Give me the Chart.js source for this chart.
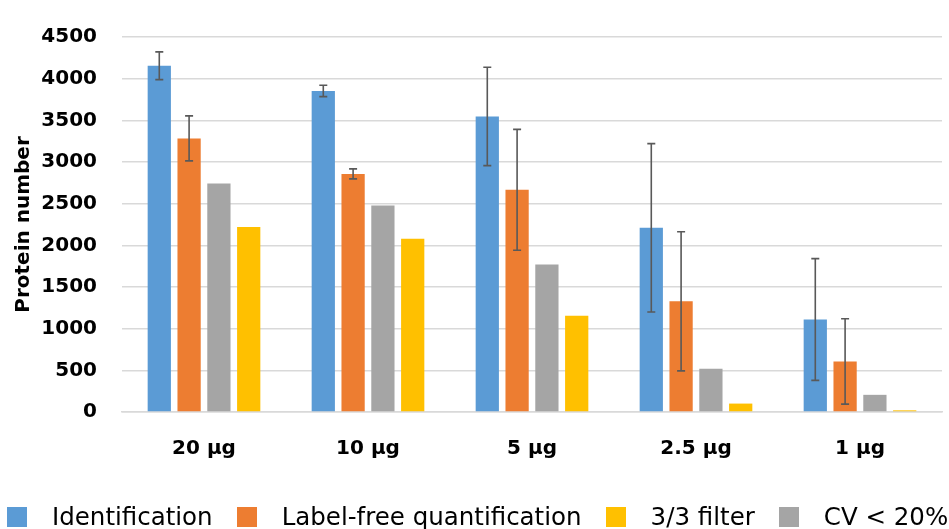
<!DOCTYPE html>
<html>
<head>
<meta charset="utf-8">
<title>Protein number</title>
<script src="https://cdn.jsdelivr.net/npm/chart.js@4/dist/chart.umd.min.js"></script>
<style>
  html, body { margin: 0; padding: 0; background: #fff; }
  #wrap { position: relative; width: 949px; height: 529px; overflow: hidden; }
  #chart { display: block; }
  /* legend under the chart, like the Excel one */
  #legend {
    position: absolute; left: 7px; top: 505px;
    display: flex; align-items: flex-start;
    font-family: "DejaVu Sans", sans-serif; font-size: 24.5px; line-height: 1;
    color: #000; white-space: nowrap;
  }
  #legend .item { display: flex; align-items: flex-start; margin-right: 24px; }
  #legend .box { width: 20px; height: 20px; margin-top: 2px; margin-right: 25px; }
</style>
</head>
<body>
<div id="wrap">
  <canvas id="chart" width="949" height="529"></canvas>
  <div id="legend"></div>
</div>
<script>
// --- data ---
const categories = ['20 µg', '10 µg', '5 µg', '2.5 µg', '1 µg'];

const identification = [4155, 3853, 3547, 2210, 1110];
const identificationErr = [167, 68, 590, 1010, 730];

const labelFree = [3283, 2857, 2666, 1328, 607];
const labelFreeErr = [270, 60, 725, 835, 512];

const cvBelow20 = [2741, 2477, 1771, 520, 206];
const filter33 = [2221, 2078, 1155, 101, 20];

const yTicks = [0, 500, 1000, 1500, 2000, 2500, 3000, 3500, 4000, 4500];

// legend order differs from bar order in the original
const legendOrder = ['Identification', 'Label-free quantification', '3/3 filter', 'CV < 20%'];

const colors = {
    'Identification': '#5B9BD5',
    'Label-free quantification': '#ED7D31',
    'CV < 20%': '#A5A5A5',
    '3/3 filter': '#FFC000'
};

const FONT = '"DejaVu Sans", sans-serif';

// error bars drawn with the y scale of the chart
const errorBarPlugin = {
    id: 'errorBars',
    afterDatasetsDraw(chart) {
        const ctx = chart.ctx;
        const yScale = chart.scales.y;
        chart.data.datasets.forEach((ds, i) => {
            if (!ds.errors) return;
            const meta = chart.getDatasetMeta(i);
            meta.data.forEach((bar, j) => {
                const v = ds.data[j];
                const e = ds.errors[j];
                const yTop = yScale.getPixelForValue(v + e);
                const yBot = yScale.getPixelForValue(Math.max(0, v - e));
                ctx.save();
                ctx.strokeStyle = '#595959';
                ctx.lineWidth = 1.6;
                ctx.beginPath();
                ctx.moveTo(bar.x, yTop);
                ctx.lineTo(bar.x, yBot);
                ctx.moveTo(bar.x - 4, yTop);
                ctx.lineTo(bar.x + 4, yTop);
                ctx.moveTo(bar.x - 4, yBot);
                ctx.lineTo(bar.x + 4, yBot);
                ctx.stroke();
                ctx.restore();
            });
        });
    }
};

function makeDataset(label, data, errors) {
    return {
        label: label,
        data: data,
        errors: errors || null,
        backgroundColor: colors[label],
        borderWidth: 0,
        categoryPercentage: 0.727,
        barPercentage: 0.78
    };
}

const ctx = document.getElementById('chart').getContext('2d');
const chart = new Chart(ctx, {
    type: 'bar',
    data: {
        labels: categories,
        datasets: [
            makeDataset('Identification', identification, identificationErr),
            makeDataset('Label-free quantification', labelFree, labelFreeErr),
            makeDataset('CV < 20%', cvBelow20),
            makeDataset('3/3 filter', filter33)
        ]
    },
    options: {
        responsive: false,
        animation: false,
        devicePixelRatio: 1,
        layout: { padding: { left: 0, right: 7, top: 25, bottom: 0 } },
        plugins: {
            legend: { display: false },
            tooltip: { enabled: false }
        },
        scales: {
            x: {
                grid: { display: false, drawTicks: false },
                border: { display: true, color: '#d9d9d9', width: 1.5 },
                ticks: {
                    color: '#000',
                    padding: 25,
                    font: { family: FONT, size: 20, weight: 'bold' }
                },
                afterFit(scale) { scale.height = 117; }
            },
            y: {
                min: 0,
                max: 4500,
                afterBuildTicks(scale) {
                    scale.ticks = yTicks.map(v => ({ value: v }));
                },
                grid: { color: '#d9d9d9', lineWidth: 1.5, drawTicks: false },
                border: { display: false },
                ticks: {
                    color: '#000',
                    padding: 25,
                    font: { family: FONT, size: 20, weight: 'bold' },
                    callback: (value) => String(value) // no thousands separator
                },
                title: {
                    display: true,
                    text: 'Protein number',
                    color: '#000',
                    padding: { top: 12, bottom: 0 },
                    font: { family: FONT, size: 20, weight: 'bold' }
                },
                afterFit(scale) { scale.width = 122; }
            }
        }
    },
    plugins: [errorBarPlugin]
});

// --- legend ---
const legendEl = document.getElementById('legend');
legendOrder.forEach(name => {
    const item = document.createElement('div');
    item.className = 'item';
    const box = document.createElement('span');
    box.className = 'box';
    box.style.background = colors[name];
    const txt = document.createElement('span');
    txt.textContent = name;
    item.appendChild(box);
    item.appendChild(txt);
    legendEl.appendChild(item);
});
</script>
</body>
</html>
